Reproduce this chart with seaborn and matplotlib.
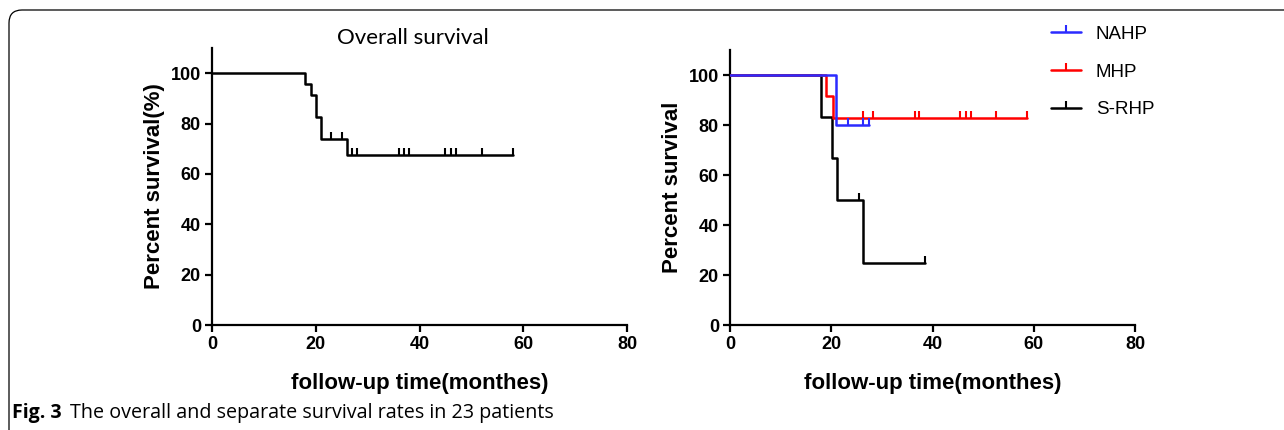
import numpy as np
import pandas as pd
import matplotlib
matplotlib.use("Agg")
import matplotlib.pyplot as plt
import seaborn as sns
from matplotlib.path import Path
from matplotlib.patches import FancyBboxPatch
from matplotlib.lines import Line2D

sns.set_style("ticks")
plt.rcParams['font.family'] = ['Liberation Sans', 'DejaVu Sans']
plt.rcParams.update({"text.color": "black", "axes.labelcolor": "black",
                     "xtick.color": "black", "ytick.color": "black",
                     "axes.edgecolor": "black"})

# overall survival (step times / survival %)
overall_t = [0, 18, 19, 20, 21, 26, 58]
overall_s = [100, 95.7, 91.3, 82.6, 73.9, 67.7, 67.7]
overall_cens = [23, 25, 27, 28, 36, 37, 38, 45, 46, 47, 52, 58]

# groups
groups = ["NAHP", "MHP", "S-RHP"]
group_colors = ["#2b2bff", "#ff0000", "#000000"]
nahp_t = [0, 21, 27.5]
nahp_s = [100, 80, 80]
nahp_cens = [23.3, 26.3, 27.5]
mhp_t = [0, 19, 20.4, 58.7]
mhp_s = [100, 91.7, 82.9, 82.9]
mhp_cens = [26.3, 28.3, 36.6, 37.3, 45.5, 46.6, 47.7, 52.6, 58.7]
srhp_t = [0, 18, 20.2, 21.2, 26.3, 38.6]
srhp_s = [100, 83.3, 66.7, 50, 25, 25]
srhp_cens = [25.4, 38.6]

x_ticks = [0, 20, 40, 60, 80]
y_ticks = [0, 20, 40, 60, 80, 100]

tick_marker = Path([(0, 0), (0, 1)])


def step_value(t, times, surv):
    idx = np.searchsorted(times, t, side="right") - 1
    return np.asarray(surv)[idx]


def km_curve(ax, times, surv, cens, color, z=2):
    df = pd.DataFrame({"t": times, "s": surv})
    sns.lineplot(data=df, x="t", y="s", ax=ax, drawstyle="steps-post",
                 color=color, lw=1.8, zorder=z, estimator=None)
    cy = step_value(cens, times, surv)
    ax.plot(cens, cy, ls="", marker=tick_marker, ms=10, mew=1.5,
            color=color, zorder=z)


def style_axes(ax, ylabel):
    ax.set_xlim(0, 80)
    ax.set_ylim(0, 110)
    ax.set_xticks(x_ticks)
    ax.set_yticks(y_ticks)
    sns.despine(ax=ax)
    for sp in ["left", "bottom"]:
        ax.spines[sp].set_linewidth(1.6)
    ax.tick_params(width=1.6, length=5, labelsize=13, pad=3)
    for lab in ax.get_xticklabels() + ax.get_yticklabels():
        lab.set_fontweight("bold")
    ax.set_xlabel("follow-up time(monthes)", fontsize=16, fontweight="bold", labelpad=14)
    ax.set_ylabel(ylabel, fontsize=16, fontweight="bold", labelpad=4)


fig = plt.figure(figsize=(12.84, 4.30), dpi=100)

ax1 = fig.add_axes([212 / 1284, 1 - 325 / 430, 415 / 1284, 277 / 430])
km_curve(ax1, overall_t, overall_s, overall_cens, "black")
style_axes(ax1, "Percent survival(%)")
ax1.set_title("Overall survival", fontsize=16, family="Lato", pad=-4,
              x=(413 - 212) / 415)

ax2 = fig.add_axes([730 / 1284, 1 - 325 / 430, 405 / 1284, 275 / 430])
km_curve(ax2, srhp_t, srhp_s, srhp_cens, group_colors[2], z=2)
km_curve(ax2, mhp_t, mhp_s, mhp_cens, group_colors[1], z=3)
km_curve(ax2, nahp_t, nahp_s, nahp_cens, group_colors[0], z=4)
style_axes(ax2, "Percent survival")

handles = [Line2D([], [], color=c, lw=1.8, marker=Path([(0, 0), (0, 1)]),
                  ms=10, mew=1.5) for c in group_colors]
fig.legend(handles, groups, loc="upper left",
           bbox_to_anchor=(1034 / 1284, 1 - 9 / 430), frameon=False,
           fontsize=13.5, handlelength=1.6, handletextpad=0.8, labelspacing=1.1)

# frame of the figure panel
frame = FancyBboxPatch((0.09, -0.5), 14, 4.70, boxstyle="round,pad=0,rounding_size=0.13",
                       transform=fig.dpi_scale_trans, fill=False, lw=0.9,
                       edgecolor="black", clip_on=False)
fig.patches.append(frame)

fig.text(12 / 1284, 1 - 418 / 430, "Fig. 3", fontsize=14, fontweight="bold",
         family="Open Sans")
fig.text(70 / 1284, 1 - 418 / 430, "The overall and separate survival rates in 23 patients",
         fontsize=14.2, family="Open Sans")

fig.savefig("out.png", dpi=100)
